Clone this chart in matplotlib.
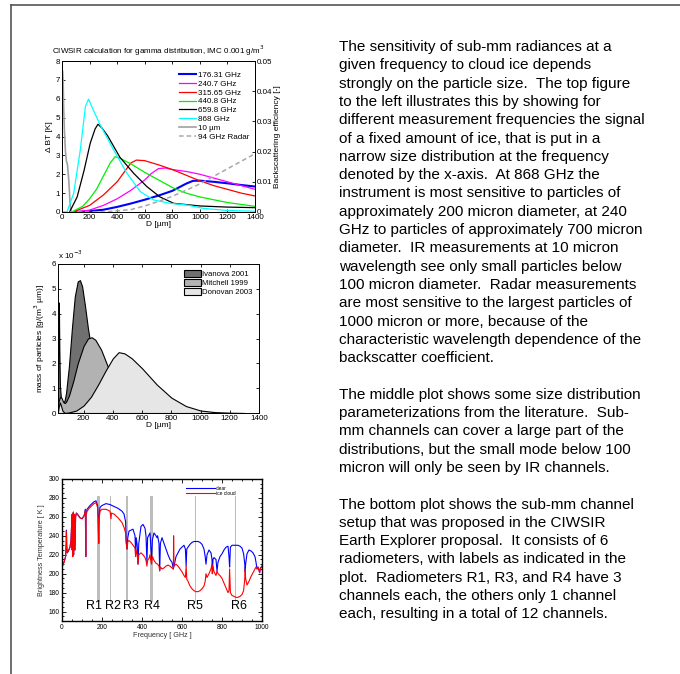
import numpy as np
import matplotlib
matplotlib.use('Agg')
import matplotlib.pyplot as plt
from matplotlib.lines import Line2D

plt.rcParams['font.family'] = ['Liberation Sans', 'DejaVu Sans']

# ---------------- top plot: sensitivity vs particle size ----------------
d_176 = [100, 200, 300, 400, 500, 600, 700, 800, 900, 950, 1000, 1100, 1200, 1300, 1400]
bt_176 = [0, 0.05, 0.12, 0.27, 0.45, 0.65, 0.87, 1.12, 1.5, 1.65, 1.66, 1.6, 1.52, 1.43, 1.35]
d_240 = [100, 200, 300, 400, 500, 600, 650, 700, 750, 800, 900, 1000, 1100, 1200, 1300, 1400]
bt_240 = [0, 0.1, 0.35, 0.7, 1.15, 1.7, 2.05, 2.3, 2.33, 2.25, 2.15, 2.0, 1.8, 1.6, 1.4, 1.2]
d_315 = [80, 200, 300, 400, 450, 500, 540, 600, 700, 800, 900, 1000, 1100, 1200, 1300, 1400]
bt_315 = [0, 0.35, 0.9, 1.6, 2.1, 2.6, 2.75, 2.72, 2.5, 2.25, 1.95, 1.65, 1.4, 1.2, 1.0, 0.85]
d_440 = [70, 150, 200, 250, 300, 350, 385, 420, 500, 600, 700, 800, 900, 1000, 1200, 1400]
bt_440 = [0, 0.3, 0.7, 1.2, 1.9, 2.6, 2.93, 2.85, 2.55, 2.1, 1.7, 1.3, 1.0, 0.8, 0.5, 0.3]
d_659 = [55, 110, 160, 205, 240, 261, 290, 330, 420, 520, 615, 710, 810, 1000, 1200, 1400]
bt_659 = [0, 0.8, 2.2, 3.65, 4.4, 4.65, 4.45, 4.05, 2.9, 2.05, 1.35, 0.8, 0.46, 0.32, 0.26, 0.23]
d_868 = [36, 85, 133, 170, 193, 215, 278, 374, 471, 568, 664, 785, 906, 1027, 1200, 1400]
bt_868 = [0, 1.0, 3.3, 5.6, 5.98, 5.6, 4.6, 3.3, 2.05, 1.08, 0.64, 0.46, 0.37, 0.19, 0.08, 0.04]
d_ir = [5, 8, 12, 18, 25, 32, 40, 50, 58, 65]
bt_ir = [7.45, 7.0, 5.5, 4.2, 3.2, 2.7, 2.5, 1.6, 0.5, 0]
d_radar = [0, 300, 500, 600, 700, 800, 900, 1000, 1100, 1200, 1300, 1400]
eff_radar = [0, 0, 0.0008, 0.002, 0.0035, 0.0052, 0.0072, 0.0093, 0.0118, 0.0143, 0.0168, 0.0193]

# ---------------- middle plot: size distributions ----------------
d_iva = [25, 28, 31, 34, 38, 45, 50, 60, 70, 80, 100, 120, 140, 160, 175, 190, 210, 230, 260, 300, 350, 400, 450, 500, 600]
m_iva = [1.2, 3.0, 4.45, 2.6, 1.1, 0.6, 0.45, 0.4, 0.5, 0.8, 1.9, 3.4, 4.7, 5.3, 5.35, 5.1, 4.3, 3.4, 2.3, 1.3, 0.55, 0.2, 0.06, 0.02, 0]
d_mit = [25, 30, 40, 50, 60, 70, 80, 100, 130, 160, 200, 230, 255, 280, 320, 360, 400, 450, 500, 600, 700, 800]
m_mit = [0.2, 0.5, 0.66, 0.6, 0.45, 0.4, 0.45, 0.7, 1.3, 2.0, 2.7, 3.0, 3.05, 2.95, 2.55, 1.95, 1.35, 0.75, 0.4, 0.1, 0.02, 0]
d_don = [25, 30, 38, 45, 55, 70, 100, 150, 200, 250, 300, 350, 400, 440, 480, 530, 600, 700, 800, 900, 1000, 1100, 1200, 1300]
m_don = [0.05, 0.25, 0.42, 0.3, 0.1, 0.0, 0.02, 0.1, 0.3, 0.65, 1.15, 1.7, 2.2, 2.45, 2.4, 2.2, 1.8, 1.15, 0.62, 0.28, 0.1, 0.035, 0.01, 0]

# ---------------- bottom plot: spectra ----------------
f_clear = [0, 10, 18, 21, 22.2, 23.5, 26, 32, 40, 45, 48, 50, 51, 52, 53, 54, 56, 57, 58, 59, 60, 62, 65, 68, 72, 80, 90, 100, 110, 115, 117, 118.75, 120, 125, 140, 160, 170, 178, 181, 183.3, 185, 190, 200, 220, 240, 250, 260, 280, 300, 310, 318, 321, 325.15, 329, 335, 345, 355, 365, 368, 371, 376, 380.2, 384, 395, 405, 415, 420, 424.7, 428, 435, 440, 443, 448, 452, 460, 470, 475, 478, 485, 488.5, 492, 500, 510, 520, 530, 540, 550, 556.9, 560, 570, 580, 590, 600, 610, 617, 620.7, 624, 630, 640, 650, 660, 670, 680, 690, 700, 710, 716, 720, 725, 735, 745, 750, 752, 755, 760, 770, 775, 780, 790, 800, 810, 820, 830, 835, 838, 842, 850, 860, 870, 880, 890, 900, 908, 914, 916, 918, 925, 935, 945, 955, 965, 970, 975, 980, 986, 988, 992, 1000]
tb_clear = [207, 212, 218, 232, 246, 230, 222, 224, 228, 235, 250, 262, 225, 263, 218, 262, 219, 265, 220, 263, 250, 262, 225, 260, 264, 262, 259, 258, 261, 265, 268, 218, 262, 268, 272, 276, 277, 272, 260, 232, 258, 270, 272, 274, 273, 272, 271, 269, 266, 263, 255, 235, 226, 238, 245, 246, 247, 240, 222, 238, 230, 210, 232, 250, 252, 248, 240, 212, 238, 241, 243, 232, 215, 236, 243, 240, 238, 240, 232, 203, 232, 238, 232, 226, 220, 215, 212, 205, 208, 218, 222, 226, 228, 230, 226, 208, 226, 228, 231, 233, 234, 234, 234, 233, 231, 226, 218, 210, 220, 225, 222, 215, 200, 215, 217, 215, 203, 212, 218, 221, 225, 228, 229, 218, 207, 228, 230, 230, 230, 230, 229, 227, 221, 210, 202, 210, 221, 225, 224, 222, 218, 212, 205, 207, 203, 201, 206, 208]
f_cloud = [0, 10, 18, 21, 22.2, 23.5, 26, 32, 40, 45, 48, 50, 51, 52, 53, 54, 56, 57, 58, 59, 60, 62, 65, 68, 72, 80, 90, 100, 110, 115, 117, 118.75, 120, 125, 140, 160, 170, 178, 181, 183.3, 185, 190, 200, 220, 240, 245, 247, 260, 280, 300, 310, 318, 321, 325.15, 329, 335, 345, 355, 365, 368, 371, 376, 380.2, 384, 395, 405, 415, 420, 424.7, 428, 435, 440, 443, 448, 452, 460, 470, 478, 485, 488.5, 492, 500, 510, 520, 530, 540, 550, 556.9, 558, 560, 570, 580, 590, 600, 610, 617, 620.7, 624, 630, 640, 650, 660, 670, 680, 690, 700, 710, 716, 720, 725, 735, 745, 750, 752, 755, 760, 770, 775, 780, 790, 800, 810, 820, 830, 835, 838, 842, 850, 860, 870, 880, 890, 900, 908, 914, 916, 918, 925, 935, 945, 955, 965, 970, 975, 980, 986, 988, 992, 1000]
tb_cloud = [207, 212, 218, 232, 245, 230, 222, 224, 228, 235, 250, 262, 225, 263, 218, 262, 219, 265, 220, 263, 250, 262, 225, 260, 264, 262, 259, 258, 261, 264, 267, 218, 261, 266, 270, 274, 275, 270, 258, 232, 256, 266, 268, 268, 266, 258, 264, 263, 259, 254, 249, 243, 232, 226, 234, 235, 233, 230, 227, 218, 225, 220, 210, 220, 222, 220, 217, 214, 208, 214, 216, 220, 215, 210, 218, 214, 211, 210, 208, 203, 207, 205, 206, 208, 209, 208, 206, 205, 240, 208, 210, 208, 205, 202, 198, 196, 208, 194, 192, 187, 184, 182, 181, 181, 182, 184, 187, 192, 200, 196, 200, 205, 210, 200, 208, 202, 198, 203, 200, 198, 195, 190, 185, 180, 182, 205, 180, 177, 176, 175, 175, 176, 178, 182, 195, 205, 195, 188, 192, 197, 201, 205, 207, 205, 207, 203, 201, 205, 208]

chan_center = [184, 243.5, 323, 336, 448, 659.8, 668.2, 868.4, 880.4]
chan_width = [16, 5, 10, 2.5, 14, 2, 2, 2, 2]
radiometer_names = ['R1', 'R2', 'R3', 'R4', 'R5', 'R6']
radiometer_pos = [162, 255, 343, 450, 667, 887]

text_lines = [
    "The sensitivity of sub-mm radiances at a",
    "given frequency to cloud ice depends",
    "strongly on the particle size.  The top figure",
    "to the left illustrates this by showing for",
    "different measurement frequencies the signal",
    "of a fixed amount of ice, that is put in a",
    "narrow size distribution at the frequency",
    "denoted by the x-axis.  At 868 GHz the",
    "instrument is most sensitive to particles of",
    "approximately 200 micron diameter, at 240",
    "GHz to particles of approximately 700 micron",
    "diameter.  IR measurements at 10 micron",
    "wavelength see only small particles below",
    "100 micron diameter.  Radar measurements",
    "are most sensitive to the largest particles of",
    "1000 micron or more, because of the",
    "characteristic wavelength dependence of the",
    "backscatter coefficient.",
    "",
    "The middle plot shows some size distribution",
    "parameterizations from the literature.  Sub-",
    "mm channels can cover a large part of the",
    "distributions, but the small mode below 100",
    "micron will only be seen by IR channels.",
    "",
    "The bottom plot shows the sub-mm channel",
    "setup that was proposed in the CIWSIR",
    "Earth Explorer proposal.  It consists of 6",
    "radiometers, with labels as indicated in the",
    "plot.  Radiometers R1, R3, and R4 have 3",
    "channels each, the others only 1 channel",
    "each, resulting in a total of 12 channels.",
]

W, H = 680, 674
fig = plt.figure(figsize=(W / 100, H / 100), dpi=100)


def box(l, t, r, b):
    return [l / W, 1 - b / H, (r - l) / W, (b - t) / H]


# page frame
fig.add_artist(Line2D([11 / W, 1], [1 - 5 / H, 1 - 5 / H], color='#555555', lw=1.2))
fig.add_artist(Line2D([11 / W, 11 / W], [0, 1 - 5 / H], color='#555555', lw=1.2))

# =============================================================================
# top plot
# =============================================================================
ax1 = fig.add_axes(box(62, 61, 255, 212))
ax2 = ax1.twinx()
ax1.plot(d_ir, bt_ir, color='#a0a0a0', lw=1.2, label='10 µm')
ax2.plot(d_radar, eff_radar, color='#a8a8a8', lw=1.1, ls=(0, (3, 2)), label='94 GHz Radar')
ax1.plot(d_176, bt_176, color='#0000ff', lw=1.5, label='176.31 GHz')
ax1.plot(d_240, bt_240, color='#ff00ff', lw=0.9, label='240.7 GHz')
ax1.plot(d_315, bt_315, color='#ff0000', lw=0.9, label='315.65 GHz')
ax1.plot(d_440, bt_440, color='#00ee00', lw=0.9, label='440.8 GHz')
ax1.plot(d_659, bt_659, color='black', lw=0.9, label='659.8 GHz')
ax1.plot(d_868, bt_868, color='#00ffff', lw=0.9, label='868 GHz')
ax1.set_xlim(0, 1400)
ax1.set_ylim(0, 8)
ax2.set_ylim(0, 0.05)
ax1.set_xticks(range(0, 1401, 200))
ax1.set_yticks(range(0, 9))
ax2.set_yticks([0, 0.01, 0.02, 0.03, 0.04, 0.05])
ax2.set_yticklabels(['0', '0.01', '0.02', '0.03', '0.04', '0.05'])
ax1.tick_params(direction='in', top=True, labelsize=5.8, length=2.5, width=0.6, pad=1.5)
ax2.tick_params(direction='in', labelsize=5.8, length=2.5, width=0.6, pad=1.5)
ax1.set_xlabel('D [µm]', fontsize=6, labelpad=0)
ax1.set_ylabel('Δ BT [K]', fontsize=6, labelpad=2)
ax2.set_ylabel('Backscattering efficiency [-]', fontsize=6, labelpad=1)
ax1.set_title('CIWSIR calculation for gamma distribution, IMC 0.001 g/m$^3$', fontsize=5.8, pad=5)
h1, l1 = ax1.get_legend_handles_labels()
h2, l2 = ax2.get_legend_handles_labels()
order = [1, 2, 3, 4, 5, 6, 0]
handles = [h1[i] for i in order] + h2
labels = [l1[i] for i in order] + l2
ax2.legend(handles, labels, loc='upper right', bbox_to_anchor=(1.0, 0.97), fontsize=5.8,
           frameon=False, handlelength=2.0, handletextpad=0.3, labelspacing=0.15, borderpad=0.2)
for a in (ax1, ax2):
    for s in a.spines.values():
        s.set_linewidth(0.7)

# =============================================================================
# middle plot
# =============================================================================
ax3 = fig.add_axes(box(58, 264, 259, 413))
ax3.fill_between(d_iva, 0, m_iva, facecolor='#707070', edgecolor='black', lw=0.8, label='Ivanova 2001')
ax3.fill_between(d_mit, 0, m_mit, facecolor='#b2b2b2', edgecolor='black', lw=0.8, label='Mitchell 1999')
ax3.fill_between(d_don, 0, m_don, facecolor='#e6e6e6', edgecolor='black', lw=0.8, label='Donovan 2003')
ax3.set_xlim(25, 1400)
ax3.set_ylim(0, 6)
ax3.set_xticks(range(200, 1401, 200))
ax3.set_yticks(range(0, 7))
ax3.tick_params(direction='in', top=True, right=True, labelsize=5.8, length=2.5, width=0.6, pad=1.5)
ax3.set_xlabel('D [µm]', fontsize=6, labelpad=0)
ax3.set_ylabel('mass of particles [g/(m$^3$ µm)]', fontsize=6, labelpad=3)
ax3.text(0.0, 1.02, 'x 10$^{-3}$', transform=ax3.transAxes, fontsize=5.8, va='bottom')
ax3.legend(loc='upper right', fontsize=5.6, frameon=False, handlelength=2.2, handleheight=1.0,
           handletextpad=0.2, labelspacing=0.1, borderpad=0.3)
for s in ax3.spines.values():
    s.set_linewidth(0.7)

# =============================================================================
# bottom plot
# =============================================================================
ax4 = fig.add_axes(box(62, 479, 262, 621))
ax4.bar(chan_center, 112, width=chan_width, bottom=170, color='#bdbdbd', lw=0)
ax4.plot(f_clear, tb_clear, color='#0000ff', lw=0.8, label='clear')
ax4.plot(f_cloud, tb_cloud, color='#ff0000', lw=0.8, label='ice cloud')
for name, pos in zip(radiometer_names, radiometer_pos):
    ax4.text(pos, 166, name, fontsize=9, ha='center', va='center')
ax4.set_xlim(0, 1000)
ax4.set_ylim(150, 300)
ax4.set_xticks(range(0, 1001, 200))
ax4.set_xticks(range(0, 1001, 50), minor=True)
ax4.set_yticks(range(160, 301, 20))
ax4.set_yticks(range(150, 301, 5), minor=True)
ax4.tick_params(which='both', direction='in', top=True, right=True, width=0.6)
ax4.tick_params(which='major', length=3, labelsize=4.8, pad=2)
ax4.tick_params(which='minor', length=1.5)
ax4.set_xlabel('Frequency [ GHz ]', fontsize=5.2, color='#333333', labelpad=1)
ax4.set_ylabel('Brightness Temperature [ K ]', fontsize=5.2, color='#333333', labelpad=2)
ax4.legend(loc='upper right', bbox_to_anchor=(0.88, 0.97), fontsize=3.5, frameon=False,
           handlelength=6, handletextpad=0.2, labelspacing=0.05, borderpad=0)
for s in ax4.spines.values():
    s.set_linewidth(1.0)

# =============================================================================
# text block
# =============================================================================
y0 = 47
for i, line in enumerate(text_lines):
    fig.text(339 / W, 1 - (y0 + i * 18.3) / H, line, fontsize=11, ha='left', va='center')

fig.savefig('out.png', dpi=100)
